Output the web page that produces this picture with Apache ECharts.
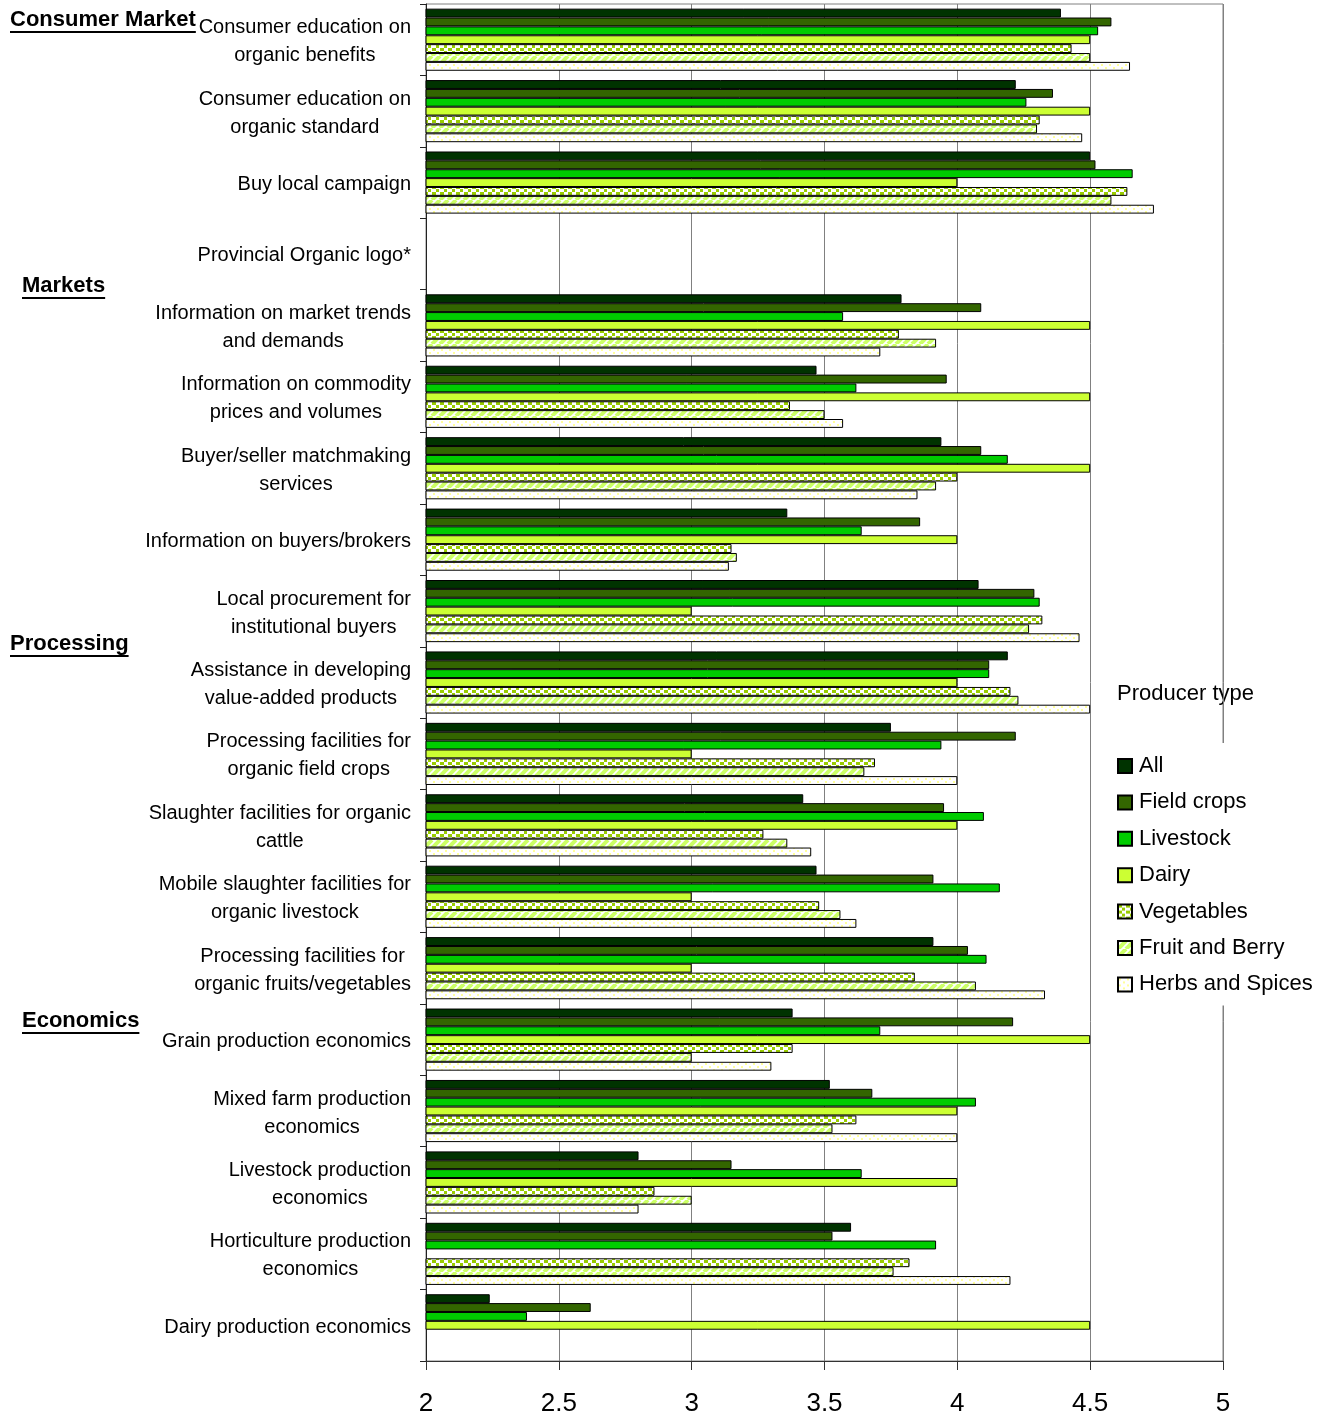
<!DOCTYPE html>
<html>
<head>
<meta charset="utf-8">
<script src="https://cdn.jsdelivr.net/npm/echarts@6/dist/echarts.min.js"></script>
<style>
  html, body { margin: 0; padding: 0; background: #fff; }
  #chart { width: 1317px; height: 1420px; }
</style>
</head>
<body>
<div id="chart"></div>
<script>
// Support needs ratings by producer type (mean score, 2–5 scale)
const categories = [
  'Consumer education on\norganic benefits',
  'Consumer education on\norganic standard',
  'Buy local campaign',
  'Provincial Organic logo*',
  'Information on market trends\nand demands',
  'Information on commodity\nprices and volumes',
  'Buyer/seller matchmaking\nservices',
  'Information on buyers/brokers',
  'Local procurement for\ninstitutional buyers',
  'Assistance in developing\nvalue-added products',
  'Processing facilities for\norganic field crops',
  'Slaughter facilities for organic\ncattle',
  'Mobile slaughter facilities for\norganic livestock',
  'Processing facilities for\norganic fruits/vegetables',
  'Grain production economics',
  'Mixed farm production\neconomics',
  'Livestock production\neconomics',
  'Horticulture production\neconomics',
  'Dairy production economics'
];

const seriesNames = ['All', 'Field crops', 'Livestock', 'Dairy', 'Vegetables', 'Fruit and Berry', 'Herbs and Spices'];

const allProducers = [4.39, 4.22, 4.50, null, 3.79, 3.47, 3.94, 3.36, 4.08, 4.19, 3.75, 3.42, 3.47, 3.91, 3.38, 3.52, 2.80, 3.60, 2.24];
const fieldCrops   = [4.58, 4.36, 4.52, null, 4.09, 3.96, 4.09, 3.86, 4.29, 4.12, 4.22, 3.95, 3.91, 4.04, 4.21, 3.68, 3.15, 3.53, 2.62];
const livestock    = [4.53, 4.26, 4.66, null, 3.57, 3.62, 4.19, 3.64, 4.31, 4.12, 3.94, 4.10, 4.16, 4.11, 3.71, 4.07, 3.64, 3.92, 2.38];
const dairy        = [4.50, 4.50, 4.00, null, 4.50, 4.50, 4.50, 4.00, 3.00, 4.00, 3.00, 4.00, 3.00, 3.00, 4.50, 4.00, 4.00, null, 4.50];
const vegetables   = [4.43, 4.31, 4.64, null, 3.78, 3.37, 4.00, 3.15, 4.32, 4.20, 3.69, 3.27, 3.48, 3.84, 3.38, 3.62, 2.86, 3.82, null];
const fruitBerry   = [4.50, 4.30, 4.58, null, 3.92, 3.50, 3.92, 3.17, 4.27, 4.23, 3.65, 3.36, 3.56, 4.07, 3.00, 3.53, 3.00, 3.76, null];
const herbsSpices  = [4.65, 4.47, 4.74, null, 3.71, 3.57, 3.85, 3.14, 4.46, 4.50, 4.00, 3.45, 3.62, 4.33, 3.30, 4.00, 2.80, 4.20, null];

const xTicks = { min: 2, max: 5, step: 0.5 };

const sections = [
  { text: 'Consumer Market', x: 10, y: 21 },
  { text: 'Markets', x: 22, y: 287 },
  { text: 'Processing', x: 10, y: 645 },
  { text: 'Economics', x: 22, y: 1022 }
];

const FONT = '"Liberation Sans", Arial, sans-serif';

// --- fill patterns -------------------------------------------------------
function tile(w, h, draw) {
  const c = document.createElement('canvas');
  c.width = w; c.height = h;
  const ctx = c.getContext('2d');
  ctx.fillStyle = '#ffffff';
  ctx.fillRect(0, 0, w, h);
  draw(ctx);
  return { image: c, repeat: 'repeat' };
}
const confetti = tile(8, 6, ctx => {
  ctx.fillStyle = '#99cc00';
  ctx.fillRect(0, 0, 4, 3);
  ctx.fillRect(4, 3, 3, 3);
});
const diagonal = tile(8, 8, ctx => {
  ctx.strokeStyle = '#ccff66';
  ctx.lineWidth = 4;
  for (const k of [-8, 0, 8]) {
    ctx.beginPath();
    ctx.moveTo(k, 8);
    ctx.lineTo(k + 8, 0);
    ctx.stroke();
  }
});
const dotted = tile(8, 6, ctx => {
  ctx.fillStyle = '#ffff99';
  ctx.fillRect(1, 1, 2, 2);
  ctx.fillRect(5, 4, 2, 2);
});

const seriesData = [allProducers, fieldCrops, livestock, dairy, vegetables, fruitBerry, herbsSpices];
const seriesFill = ['#003300', '#336600', '#00cc00', '#ccff33', confetti, diagonal, dotted];

// --- section headings with underline ------------------------------------
const measureCtx = document.createElement('canvas').getContext('2d');
measureCtx.font = 'bold 22px ' + FONT;
const headingGraphics = [];
sections.forEach(s => {
  const w = measureCtx.measureText(s.text).width;
  headingGraphics.push({
    type: 'text', left: s.x, top: s.y - 12,
    style: { text: s.text, font: 'bold 22px ' + FONT, fill: '#000' }
  });
  headingGraphics.push({
    type: 'rect', shape: { x: s.x, y: s.y + 10, width: w, height: 2 },
    style: { fill: '#000' }
  });
});

const chart = echarts.init(document.getElementById('chart'), null, { renderer: 'canvas' });

chart.setOption({
  animation: false,
  backgroundColor: '#ffffff',
  textStyle: { fontFamily: FONT },
  grid: {
    left: 426, top: 4, right: 94, bottom: 59,
    show: true, borderColor: '#808080', borderWidth: 1,
    containLabel: false
  },
  xAxis: {
    type: 'value',
    min: xTicks.min, max: xTicks.max, interval: xTicks.step,
    axisLine: { show: true, lineStyle: { color: '#333', width: 1 } },
    axisTick: { show: true, length: 9, lineStyle: { color: '#333' } },
    splitLine: { show: true, lineStyle: { color: '#808080', width: 1 } },
    axisLabel: { fontSize: 26, color: '#000', margin: 30, fontFamily: FONT }
  },
  yAxis: {
    type: 'category',
    inverse: true,
    data: categories,
    axisLine: { show: true, lineStyle: { color: '#222', width: 1 } },
    axisTick: { show: true, length: 6, lineStyle: { color: '#222' } },
    axisLabel: {
      interval: 0,
      margin: 15,
      padding: [4, 0, 0, 0],
      formatter: v => v.split('\n').map(l => '{c|' + l + '}').join('\n'),
      rich: {
        c: { align: 'center', fontSize: 20, lineHeight: 28, color: '#000', fontFamily: FONT }
      }
    }
  },
  legend: {
    orient: 'vertical',
    left: 1110, top: 743,
    padding: [12, 8, 10, 7],
    backgroundColor: '#ffffff',
    itemWidth: 14, itemHeight: 14,
    itemGap: 14.4,
    icon: 'rect',
    selectedMode: false,
    textStyle: { fontSize: 22, lineHeight: 22, color: '#000', fontFamily: FONT, padding: [0, 0, 0, 2] },
    data: seriesNames
  },
  graphic: [
    {
      type: 'text', left: 1117, top: 683,
      style: { text: 'Producer type', font: '22px ' + FONT, fill: '#000' }
    },
    ...headingGraphics
  ],
  series: seriesNames.map((name, i) => ({
    name,
    type: 'bar',
    data: seriesData[i],
    barGap: '0%',
    barCategoryGap: '13%',
    itemStyle: { color: seriesFill[i], borderColor: '#000', borderWidth: 1 }
  }))
});
</script>
</body>
</html>
